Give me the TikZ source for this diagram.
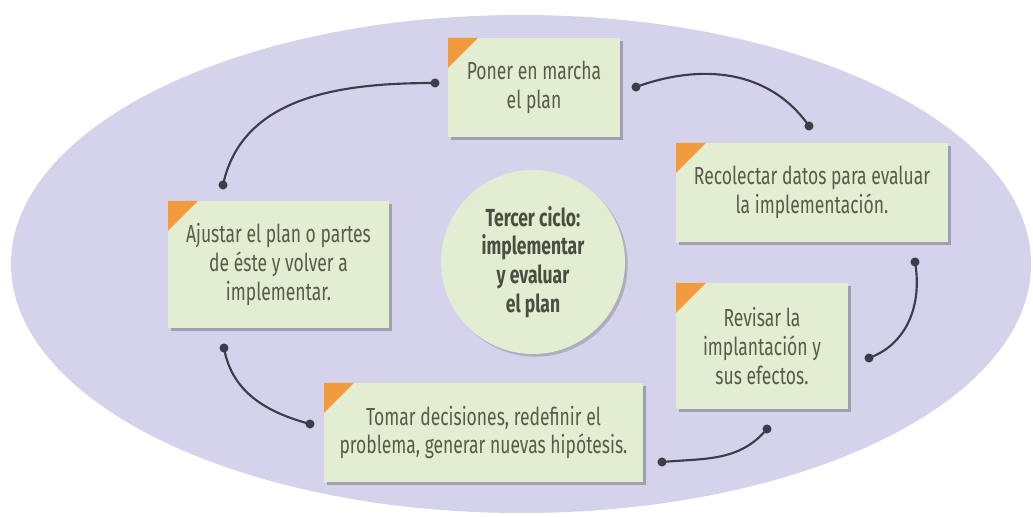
\documentclass[tikz,border=0pt]{standalone}
\usepackage{fontspec}
\setmainfont{Fira Sans}[FakeStretch=0.71]
\usepackage{xcolor}
\usepackage{tikz}
\usetikzlibrary{shadows}
\definecolor{lila}{HTML}{D5D3EB}
\definecolor{hoja}{HTML}{E3EDD1}
\definecolor{naranja}{HTML}{F29A3E}
\definecolor{tinta}{HTML}{555C4B}
\definecolor{trazo}{HTML}{3D3D4A}
\tikzset{
  paso/.style={fill=hoja, inner sep=0pt, align=center, text=tinta,
    font=\fontsize{18.5}{21.5}\selectfont,
    drop shadow={shadow xshift=2.5pt, shadow yshift=-2.5pt, fill=trazo, opacity=0.35},
    path picture={\fill[naranja] (path picture bounding box.north west) -- ++(22.5pt,0pt) -- ++(-22.5pt,-22.5pt) -- cycle;}},
  centro/.style={circle, fill=hoja, minimum size=138pt, inner sep=0pt, align=center,
    text=tinta!85!black, font=\bfseries\fontsize{18.5}{21.5}\selectfont,
    drop shadow={shadow xshift=2pt, shadow yshift=-2pt, fill=trazo, opacity=0.25}},
  enlace/.style={draw=trazo, line width=1.6pt},
  punto/.style={fill=trazo}
}
\newcommand{\puntos}[2]{\fill[punto] (#1) circle (3.4pt); \fill[punto] (#2) circle (3.4pt);}

\begin{document}
\begin{tikzpicture}[x=0.75pt, y=0.75pt]
            \useasboundingbox (0,0) rectangle (1033,517);
            \fill[lila] (521,253) ellipse [x radius=510, y radius=249];

            %Nodes
            \node[paso, minimum width=129pt, minimum height=74.25pt] at (534,429.5) (poner) {Poner en marcha\\el plan};
            \node[paso, minimum width=204pt, minimum height=74.25pt] at (812,324.5) (recolectar) {Recolectar datos para evaluar\\la implementación.};
            \node[paso, minimum width=129pt, minimum height=94.5pt] at (762,171) (revisar) {Revisar la\\implantación y\\sus efectos.};
            \node[paso, minimum width=239.25pt, minimum height=74.25pt] at (483.5,84.5) (tomar) {Tomar decisiones, redefinir el\\problema, generar nuevas hipótesis.};
            \node[paso, minimum width=165.75pt, minimum height=95.25pt] at (278.5,252.5) (ajustar) {Ajustar el plan o partes\\de éste y volver a\\implementar.};
            \node[centro] at (533,255) (ciclo) {Tercer ciclo:\\implementar\\y evaluar\\el plan};

            %Ends
            \coordinate (a1) at (435,434);
            \coordinate (a2) at (223,332);
            \coordinate (b1) at (636,430);
            \coordinate (b2) at (809,391);
            \coordinate (c1) at (915,255);
            \coordinate (c2) at (869,159);
            \coordinate (d1) at (767,88);
            \coordinate (d2) at (662,55);
            \coordinate (e1) at (310,93);
            \coordinate (e2) at (224,169);

            %Lines
            \draw[enlace] (a1) to[out=180, in=78] (a2);
            \draw[enlace] (b1) to[out=20, in=125] (b2);
            \draw[enlace] (c1) to[out=-80, in=20] (c2);
            \draw[enlace] (d1) to[out=-130, in=5] (d2);
            \draw[enlace] (e1) to[out=165, in=-80] (e2);
            \puntos{a1}{a2}
            \puntos{b1}{b2}
            \puntos{c1}{c2}
            \puntos{d1}{d2}
            \puntos{e1}{e2}
        \end{tikzpicture}
\end{document}
